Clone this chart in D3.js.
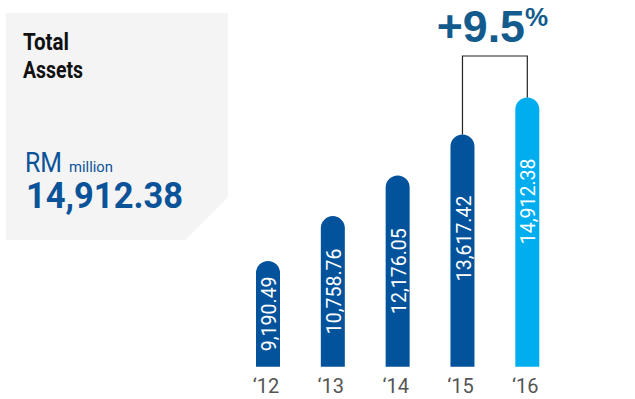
<!DOCTYPE html>
<html>
<head>
<meta charset="utf-8">
<script src="https://cdn.jsdelivr.net/npm/d3@7"></script>
<style>
  html, body { margin: 0; padding: 0; background: #fff; }
  svg { display: block; }
</style>
</head>
<body>
<svg id="chart" width="635" height="399"></svg>
<script>
// Total assets, RM million
const years = ["‘12", "‘13", "‘14", "‘15", "‘16"];
const assets = [9190.49, 10758.76, 12176.05, 13617.42, 14912.38];
const growthLabel = "+9.5";
const highlightIndex = 4;

const W = 635, H = 399;
const baseline = 366.7;
const barW = 24;
const darkBlue = "#02539b";
const lightBlue = "#00aeef";
const headBlue = "#0a5399";

const svg = d3.select("#chart");
const defs = svg.append("defs");

// soft floor shadow behind the bars
const grad = defs.append("radialGradient").attr("id", "floor")
  .attr("cx", "50%").attr("cy", "100%").attr("r", "50%");
grad.append("stop").attr("offset", "0%").attr("stop-color", "#e1e1e1");
grad.append("stop").attr("offset", "55%").attr("stop-color", "#f1f1f1");
grad.append("stop").attr("offset", "100%").attr("stop-color", "#ffffff");
defs.append("clipPath").attr("id", "aboveBase")
  .append("rect").attr("x", 0).attr("y", 0).attr("width", W).attr("height", baseline);

svg.append("ellipse")
  .attr("cx", 405).attr("cy", baseline)
  .attr("rx", 270).attr("ry", 115)
  .attr("fill", "url(#floor)")
  .attr("clip-path", "url(#aboveBase)");

// headline panel with a clipped corner
svg.append("path")
  .attr("d", "M6,13 H228 V197 L185,240 H6 Z")
  .attr("fill", "#f4f4f4");

const panel = svg.append("g").attr("font-family", "Roboto, 'Open Sans', sans-serif");
panel.append("text").attr("x", 23).attr("y", 50)
  .attr("font-size", 23.5).attr("font-weight", 700).attr("fill", "#111")
  .attr("textLength", 46).attr("lengthAdjust", "spacingAndGlyphs")
  .text("Total");
panel.append("text").attr("x", 23).attr("y", 77.7)
  .attr("font-size", 23.5).attr("font-weight", 700).attr("fill", "#111")
  .attr("textLength", 60).attr("lengthAdjust", "spacingAndGlyphs")
  .text("Assets");
panel.append("text").attr("x", 25).attr("y", 171.7)
  .attr("font-size", 28).attr("fill", headBlue)
  .attr("textLength", 37).attr("lengthAdjust", "spacingAndGlyphs")
  .text("RM");
panel.append("text").attr("x", 69).attr("y", 171.7)
  .attr("font-size", 14.5).attr("fill", headBlue)
  .attr("textLength", 44).attr("lengthAdjust", "spacingAndGlyphs")
  .text("million");
panel.append("text").attr("x", 26).attr("y", 208.3)
  .attr("font-size", 37.5).attr("font-weight", 700).attr("fill", headBlue)
  .attr("textLength", 157).attr("lengthAdjust", "spacingAndGlyphs")
  .text(d3.format(",.2f")(assets[highlightIndex]));

// scales
const x = d3.scalePoint().domain(years).range([268, 527.3]);
const y = d3.scaleLinear().domain([5490, 15000]).range([baseline, 94.9]);

const data = years.map((yr, i) => ({ yr, v: assets[i], i }));

function barPath(d) {
  const cx = x(d.yr), r = barW / 2;
  const top = y(d.v);
  return `M${cx - r},${baseline} V${top + r} A${r},${r} 0 0 1 ${cx + r},${top + r} V${baseline} Z`;
}

const bars = svg.append("g");
bars.selectAll("path").data(data).join("path")
  .attr("d", barPath)
  .attr("fill", d => d.i === highlightIndex ? lightBlue : darkBlue);

// value labels, rotated inside the bars
bars.selectAll("text").data(data).join("text")
  .attr("transform", d => {
    const top = y(d.v), h = baseline - top;
    const cy = top + Math.min(h / 2, 104);
    return `translate(${x(d.yr) + 1},${cy}) rotate(-90)`;
  })
  .attr("text-anchor", "middle")
  .attr("dy", "0.36em")
  .attr("font-family", "Roboto, 'Open Sans', sans-serif")
  .attr("font-size", 19.5)
  .attr("fill", "#fff")
  .text(d => d3.format(",.2f")(d.v));

// year axis labels
svg.append("g").selectAll("text").data(years).join("text")
  .attr("x", d => x(d) - 2)
  .attr("y", 393.3)
  .attr("text-anchor", "middle")
  .attr("font-family", "Roboto, 'Open Sans', sans-serif")
  .attr("font-size", 20)
  .attr("fill", "#555")
  .text(d => d);

// growth bracket between the last two years
const a = data[highlightIndex - 1], b = data[highlightIndex];
const bracketY = 56;
svg.append("path")
  .attr("d", `M${x(a.yr)},${y(a.v)} V${bracketY} H${x(b.yr)} V${y(b.v)}`)
  .attr("fill", "none").attr("stroke", "#222").attr("stroke-width", 1.2);

const growth = svg.append("text")
  .attr("x", 436.7).attr("y", 41.7)
  .attr("font-family", "'Liberation Sans', Arial, sans-serif")
  .attr("font-weight", 700)
  .attr("fill", "#135b8c");
growth.append("tspan").attr("font-size", 44.7).text(growthLabel);
growth.append("tspan").attr("font-size", 26).attr("dy", -15.7).text("%");
</script>
</body>
</html>
